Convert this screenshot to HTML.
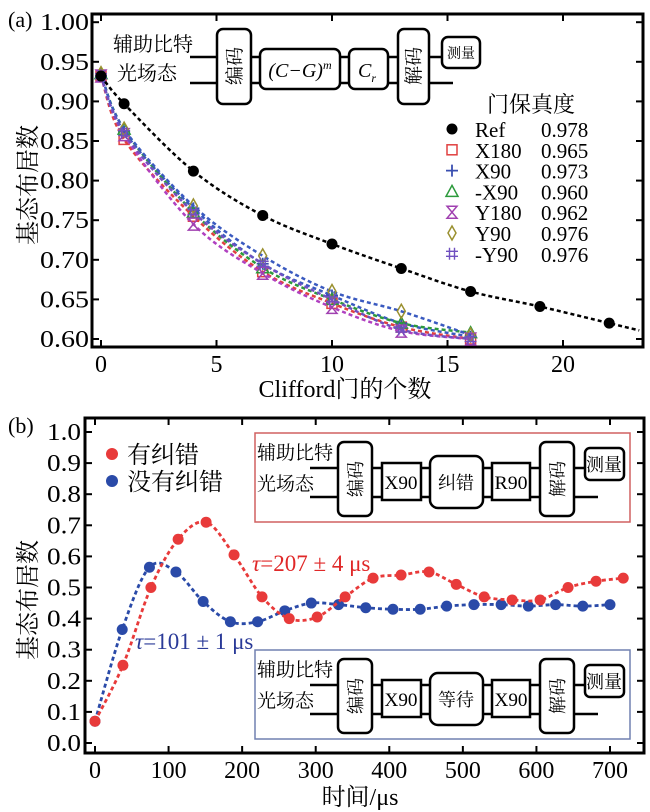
<!DOCTYPE html>
<html><head><meta charset="utf-8">
<style>
body{margin:0;background:#fff;}
svg{display:block;font-family:"Liberation Serif","DejaVu Serif","Noto Serif CJK SC",serif;}
</style></head>
<body>
<svg id="c" width="650" height="812" viewBox="0 0 650 812"></svg>
<script>
// ---- Panel (a) data ----
const aRefX=[0,1,4,7,10,13,16,19,22];
const aRefY=[0.932,0.897,0.812,0.756,0.720,0.689,0.660,0.641,0.620];
const aGateX=[0,1,4,7,10,13,16];
const aX180=[0.932,0.852,0.755,0.685,0.645,0.615,0.600];
const aX90=[0.932,0.862,0.765,0.695,0.655,0.620,0.603];
const aMX90=[0.935,0.865,0.760,0.690,0.650,0.620,0.608];
const aY180=[0.932,0.858,0.745,0.683,0.640,0.610,0.600];
const aY90=[0.935,0.865,0.768,0.705,0.660,0.635,0.605];
const aMY90=[0.932,0.860,0.760,0.695,0.650,0.612,0.600];
const aLegendNames=["Ref","X180","X90","-X90","Y180","Y90","-Y90"];
const aFidelities=["0.978","0.965","0.973","0.960","0.962","0.976","0.976"];
const aYTicks=[0.60,0.65,0.70,0.75,0.80,0.85,0.90,0.95,1.00];
const aXTicks=[0,5,10,15,20];
// ---- Panel (b) data ----
const bRedT=[0,38,76,113,151,189,227,264,302,340,378,416,454,491,529,567,605,643,681,718];
const bRedY=[0.07,0.25,0.50,0.655,0.71,0.605,0.47,0.40,0.405,0.47,0.53,0.54,0.55,0.51,0.47,0.46,0.46,0.50,0.52,0.53];
const bBlueT=[0,37,74,110,147,184,221,258,294,331,368,405,442,478,515,552,589,626,663,700];
const bBlueY=[0.07,0.365,0.565,0.55,0.455,0.39,0.39,0.425,0.45,0.445,0.435,0.43,0.43,0.44,0.445,0.445,0.44,0.445,0.44,0.445];
const bYTicks=[0,0.1,0.2,0.3,0.4,0.5,0.6,0.7,0.8,0.9,1.0];
const bXTicks=[0,100,200,300,400,500,600,700];

const NS="http://www.w3.org/2000/svg";
const svg=document.getElementById('c');
function mk(tag,attrs,parent){const e=document.createElementNS(NS,tag);for(const k in attrs)e.setAttribute(k,attrs[k]);(parent||svg).appendChild(e);return e;}
function txt(s,attrs,parent){const e=mk('text',attrs,parent);e.textContent=s;return e;}
function smooth(pts){let d=`M${pts[0][0]},${pts[0][1]}`;for(let i=0;i<pts.length-1;i++){const p0=pts[Math.max(0,i-1)],p1=pts[i],p2=pts[i+1],p3=pts[Math.min(pts.length-1,i+2)];const c1=[p1[0]+(p2[0]-p0[0])/6,p1[1]+(p2[1]-p0[1])/6],c2=[p2[0]-(p3[0]-p1[0])/6,p2[1]-(p3[1]-p1[1])/6];d+=` C${c1[0]},${c1[1]} ${c2[0]},${c2[1]} ${p2[0]},${p2[1]}`;}return d;}

// ===== Panel (a) =====
const ax=v=>101+v*23.1, ay=v=>339-(v-0.60)/0.05*39.6;
const ga=mk('g',{});


aYTicks.forEach(t=>{const y=ay(t);mk('line',{x1:92,y1:y,x2:99,y2:y,stroke:'#000','stroke-width':2},ga);mk('line',{x1:636,y1:y,x2:643,y2:y,stroke:'#000','stroke-width':2},ga);
 const e=txt(t.toFixed(2),{x:89,y:y+8,'font-size':24,'text-anchor':'end',textLength:49,lengthAdjust:'spacingAndGlyphs'},ga);});
aXTicks.forEach(t=>{const x=ax(t);mk('line',{x1:x,y1:347,x2:x,y2:340,stroke:'#000','stroke-width':2},ga);mk('line',{x1:x,y1:14,x2:x,y2:21,stroke:'#000','stroke-width':2},ga);
 const e=txt(String(t),{x:x,y:372,'font-size':24,'text-anchor':'middle'},ga);});
const fa=mk('rect',{x:92,y:14,width:551,height:333,fill:'none',stroke:'#000','stroke-width':3},ga);

txt('(a)',{x:8,y:27,'font-size':22},ga);
const yla=txt('基态布居数',{x:0,y:0,'font-size':24,'text-anchor':'middle',transform:'translate(36,185) rotate(-90)'},ga);

const xla=txt('Clifford门的个数',{x:345,y:397,'font-size':24,'text-anchor':'middle'},ga);


// inset a
const ia=mk('g',{'font-size':20},ga);

txt('辅助比特',{x:113,y:51},ia);txt('光场态',{x:117,y:80},ia);
mk('line',{x1:190,y1:57,x2:442,y2:57,stroke:'#000','stroke-width':2.5},ia);
mk('line',{x1:190,y1:83,x2:453,y2:83,stroke:'#000','stroke-width':2.5},ia);
[[217,29,34,75],[260,49,80,40],[349,49,39,40],[398,29,31,75],[442,37,38,31]].forEach(b=>mk('rect',{x:b[0],y:b[1],width:b[2],height:b[3],rx:6,fill:'#fff',stroke:'#000','stroke-width':2.5},ia));
txt('编码',{x:0,y:0,'font-size':19,'text-anchor':'middle',transform:'translate(241,66) rotate(-90)'},ia);
txt('解码',{x:0,y:0,'font-size':19,'text-anchor':'middle',transform:'translate(420,66) rotate(-90)'},ia);
const cg=txt('',{x:300,y:77,'font-size':20,'text-anchor':'middle','font-style':'italic'},ia);
cg.innerHTML='(C−G)<tspan font-size="12" dy="-8">m</tspan>';
const cr=txt('',{x:367,y:77,'font-size':20,'text-anchor':'middle','font-style':'italic'},ia);
cr.innerHTML='C<tspan font-size="12" dy="5">r</tspan>';
txt('测量',{x:461,y:58,'font-size':14,'text-anchor':'middle'},ia);

// series a
const aSeries=[
 {x:aGateX,y:aX180,c:'#e04040',m:'square'},
 {x:aGateX,y:aX90,c:'#3a4fb0',m:'plus'},
 {x:aGateX,y:aMX90,c:'#2c9a3c',m:'tri'},
 {x:aGateX,y:aY180,c:'#a040b0',m:'hour'},
 {x:aGateX,y:aY90,c:'#9a9030',m:'diam'},
 {x:aGateX,y:aMY90,c:'#7050c0',m:'hash'}];
const aNames=['x180','x90','minus-x90','y180','y90','minus-y90'];
function marker(m,x,y,c,g){
 if(m==='dot')return mk('circle',{cx:x,cy:y,r:5.5,fill:'#000'},g);
 if(m==='square')return mk('rect',{x:x-5,y:y-5,width:10,height:10,fill:'none',stroke:c,'stroke-width':1.5},g);
 if(m==='plus')return mk('path',{d:`M${x-6},${y}H${x+6}M${x},${y-6}V${y+6}`,stroke:c,'stroke-width':1.8},g);
 if(m==='tri')return mk('path',{d:`M${x},${y-6}L${x+6},${y+5}L${x-6},${y+5}Z`,fill:'none',stroke:c,'stroke-width':1.5},g);
 if(m==='hour')return mk('path',{d:`M${x-5},${y-6}H${x+5}L${x-5},${y+6}H${x+5}Z`,fill:'none',stroke:c,'stroke-width':1.5},g);
 if(m==='diam')return mk('path',{d:`M${x},${y-7}L${x+4},${y}L${x},${y+7}L${x-4},${y}Z`,fill:'none',stroke:c,'stroke-width':1.5},g);
 if(m==='hash')return mk('path',{d:`M${x-2.5},${y-6}V${y+6}M${x+2.5},${y-6}V${y+6}M${x-6},${y-2.5}H${x+6}M${x-6},${y+2.5}H${x+6}`,stroke:c,'stroke-width':1.4},g);
}
const lineCols=['#e04040','#3a5ac0','#2c9a3c','#b040c0','#3a5ac0','#7050c0'];
aSeries.forEach((s,i)=>{
 const g=mk('g',{},ga);
 
 
 const pts=s.x.map((v,j)=>[ax(v),ay(s.y[j])]);
 mk('path',{d:smooth(pts),fill:'none',stroke:lineCols[i],'stroke-width':2.5,'stroke-dasharray':'4 3'},g);
 pts.forEach(p=>marker(s.m,p[0],p[1],s.c,g));
});
{
 const g=mk('g',{},ga);
 
 
 const pts=aRefX.map((v,j)=>[ax(v),ay(aRefY[j])]);
 const last=pts[pts.length-1],prev=pts[pts.length-2];
 pts.push([ax(aRefX[aRefX.length-1]+1.3),last[1]+(last[1]-prev[1])*1.3/3]);
 mk('path',{d:smooth(pts),fill:'none',stroke:'#000','stroke-width':2.5,'stroke-dasharray':'4 3'},g);
 pts.slice(0,-1).forEach(p=>marker('dot',p[0],p[1],'#000',g));
}
// legend a
const la=mk('g',{'font-size':21},ga);

txt('门保真度',{x:487,y:112,'font-size':22},la);
const legM=['dot','square','plus','tri','hour','diam','hash'];
const legC=['#000','#e04040','#3a4fb0','#2c9a3c','#a040b0','#9a9030','#7050c0'];
aLegendNames.forEach((n,i)=>{
 const y=129+i*20.8;
 const e=mk('g',{},la);
 
 
 marker(legM[i],452,y,legC[i],e);
 txt(n,{x:475,y:y+8},e);
 txt(aFidelities[i],{x:541,y:y+8},e);
});

// ===== Panel (b) =====
const bx=v=>95+v*(515/700), by=v=>743-v*311;
const gb=mk('g',{});


bYTicks.forEach(t=>{const y=by(t);mk('line',{x1:85,y1:y,x2:92,y2:y,stroke:'#000','stroke-width':2},gb);mk('line',{x1:637,y1:y,x2:644,y2:y,stroke:'#000','stroke-width':2},gb);
 const e=txt(t.toFixed(1),{x:81,y:y+8,'font-size':24,'text-anchor':'end',textLength:34,lengthAdjust:'spacingAndGlyphs'},gb);});
bXTicks.forEach(t=>{const x=bx(t);mk('line',{x1:x,y1:753,x2:x,y2:746,stroke:'#000','stroke-width':2},gb);mk('line',{x1:x,y1:418,x2:x,y2:425,stroke:'#000','stroke-width':2},gb);
 const e=txt(String(t),{x:x,y:778,'font-size':24,'text-anchor':'middle'},gb);});
const fb=mk('rect',{x:85,y:418,width:559,height:335,fill:'none',stroke:'#000','stroke-width':3},gb);

txt('(b)',{x:8,y:433,'font-size':22},gb);
const ylb=txt('基态布居数',{x:0,y:0,'font-size':24,'text-anchor':'middle',transform:'translate(36,600) rotate(-90)'},gb);

const xlb=txt('时间/μs',{x:360,y:805,'font-size':24,'text-anchor':'middle'},gb);


// insets b
function inset(dy,col,mid,right,name){
 const g=mk('g',{'font-size':19},gb);
 
 
 mk('rect',{x:255,y:433+dy,width:375,height:89,fill:'#fff',stroke:col,'stroke-width':1.5},g);
 txt('辅助比特',{x:257,y:459+dy},g);txt('光场态',{x:257,y:490+dy},g);
 mk('line',{x1:310,y1:468+dy,x2:586,y2:468+dy,stroke:'#000','stroke-width':2.5},g);
 mk('line',{x1:310,y1:497+dy,x2:598,y2:497+dy,stroke:'#000','stroke-width':2.5},g);
 [[338,442,34,74,6],[382,463,39,37,0],[430,456,53,52,8],[492,463,38,37,0],[540,442,34,74,6],[585,448,39,32,5]].forEach(b=>mk('rect',{x:b[0],y:b[1]+dy,width:b[2],height:b[3],rx:b[4],fill:'#fff',stroke:'#000','stroke-width':2.5},g));
 txt('编码',{x:0,y:0,'font-size':18,'text-anchor':'middle',transform:`translate(362,${479+dy}) rotate(-90)`},g);
 txt('解码',{x:0,y:0,'font-size':18,'text-anchor':'middle',transform:`translate(564,${479+dy}) rotate(-90)`},g);
 txt('X90',{x:401,y:489+dy,'text-anchor':'middle','font-size':19,textLength:33,lengthAdjust:'spacingAndGlyphs'},g);
 txt(mid,{x:456,y:489+dy,'text-anchor':'middle','font-size':18},g);
 txt(right,{x:511,y:489+dy,'text-anchor':'middle','font-size':19,textLength:33,lengthAdjust:'spacingAndGlyphs'},g);
 txt('测量',{x:604,y:471+dy,'text-anchor':'middle','font-size':18},g);
}
inset(0,'#d06060','纠错','R90','circuit-inset-with-correction');
inset(217,'#7080b0','等待','X90','circuit-inset-without-correction');

// series b
[[bBlueT,bBlueY,'#2a4aa8','series-no-correction'],[bRedT,bRedY,'#e83a3a','series-with-correction']].forEach(s=>{
 const g=mk('g',{},gb);
 
 
 const pts=s[0].map((t,j)=>[bx(t),by(s[1][j])]);
 mk('path',{d:smooth(pts),fill:'none',stroke:s[2],'stroke-width':2.8,'stroke-dasharray':'4 3'},g);
 pts.forEach(p=>mk('circle',{cx:p[0],cy:p[1],r:5.5,fill:s[2]},g));
});
// legend b
const lb=mk('g',{'font-size':24},gb);

mk('circle',{cx:112,cy:454,r:6,fill:'#e83a3a'},lb);txt('有纠错',{x:127,y:463},lb);
mk('circle',{cx:112,cy:481,r:6,fill:'#2a4aa8'},lb);txt('没有纠错',{x:127,y:490},lb);
const t1=txt('',{x:252,y:571,'font-size':23,fill:'#e02828'},gb);
t1.innerHTML='<tspan font-style="italic">τ</tspan>=207 ± 4 μs';

const t2=txt('',{x:135,y:649,'font-size':23,fill:'#2a3a98'},gb);
t2.innerHTML='<tspan font-style="italic">τ</tspan>=101 ± 1 μs';

</script>
</body></html>
